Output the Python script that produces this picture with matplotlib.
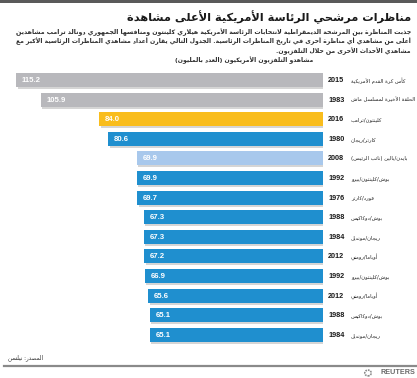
import matplotlib
matplotlib.use("Agg")
import matplotlib.pyplot as plt
from matplotlib import patheffects
from matplotlib.patches import Rectangle, Circle
from matplotlib.lines import Line2D
from matplotlib import font_manager

# ---------------- data ----------------
years = ["2015", "1983", "2016", "1980", "2008", "1992", "1976",
         "1988", "1984", "2012", "1992", "2012", "1988", "1984"]
labels_ar = ["كأس كرة القدم الأمريكية", "الحلقة الأخيرة لمسلسل ماش",
             "كلينتون/ترامب", "كارتر/ريجان", "بايدن/بالين (نائب الرئيس)",
             "بوش/كلينتون/بيرو", "فورد/كارتر", "بوش/دوكاكيس", "ريجان/مونديل",
             "أوباما/رومني", "بوش/كلينتون/بيرو", "أوباما/رومني",
             "بوش/دوكاكيس", "ريجان/مونديل"]
values = [115.2, 105.9, 84.0, 80.6, 69.9, 69.9, 69.7,
          67.3, 67.3, 67.2, 66.9, 65.6, 65.1, 65.1]
kinds = ["other", "other", "current", "debate", "vp", "debate", "debate",
         "debate", "debate", "debate", "debate", "debate", "debate", "debate"]

title = "مناظرات مرشحي الرئاسة الأمريكية الأعلى مشاهدة"
subtitle_lines = [
    "جذبت المناظرة بين المرشحة الديمقراطية لانتخابات الرئاسة الأمريكية هيلاري كلينتون ومنافسها الجمهوري دونالد ترامب مشاهدين",
    "أعلى من مشاهدي أي مناظرة أخرى في تاريخ المناظرات الرئاسية. الجدول التالي يقارن أعداد مشاهدي المناظرات الرئاسية الأكبر مع",
    "مشاهدي الأحداث الأخرى من خلال التلفزيون.",
]
axis_title = "مشاهدو التلفزيون الأمريكيون (العدد بالمليون)"
source = "المصدر: نيلسن"

# ---------------- minimal Arabic shaping + bidi ----------------
def _four(b):
    return tuple(range(b, b + 4))

FORMS = {
    '\u0621': (0xFE80,), '\u0622': (0xFE81, 0xFE82), '\u0623': (0xFE83, 0xFE84),
    '\u0624': (0xFE85, 0xFE86), '\u0625': (0xFE87, 0xFE88), '\u0626': _four(0xFE89),
    '\u0627': (0xFE8D, 0xFE8E), '\u0628': _four(0xFE8F), '\u0629': (0xFE93, 0xFE94),
    '\u062A': _four(0xFE95), '\u062B': _four(0xFE99), '\u062C': _four(0xFE9D),
    '\u062D': _four(0xFEA1), '\u062E': _four(0xFEA5), '\u062F': (0xFEA9, 0xFEAA),
    '\u0630': (0xFEAB, 0xFEAC), '\u0631': (0xFEAD, 0xFEAE), '\u0632': (0xFEAF, 0xFEB0),
    '\u0633': _four(0xFEB1), '\u0634': _four(0xFEB5), '\u0635': _four(0xFEB9),
    '\u0636': _four(0xFEBD), '\u0637': _four(0xFEC1), '\u0638': _four(0xFEC5),
    '\u0639': _four(0xFEC9), '\u063A': _four(0xFECD), '\u0641': _four(0xFED1),
    '\u0642': _four(0xFED5), '\u0643': _four(0xFED9), '\u0644': _four(0xFEDD),
    '\u0645': _four(0xFEE1), '\u0646': _four(0xFEE5), '\u0647': _four(0xFEE9),
    '\u0648': (0xFEED, 0xFEEE), '\u0649': (0xFEEF, 0xFEF0), '\u064A': _four(0xFEF1),
}
LAMALEF = {'\u0622': 0xFEF5, '\u0623': 0xFEF7, '\u0625': 0xFEF9, '\u0627': 0xFEFB}
MIRROR = str.maketrans({'(': ')', ')': '(', '[': ']', ']': '['})


def shape_word(w):
    out, i, n = [], 0, len(w)
    while i < n:
        c = w[i]
        if c not in FORMS:
            out.append(c)
            i += 1
            continue
        prev = w[i - 1] if i > 0 else None
        jp = (prev in FORMS and len(FORMS[prev]) == 4 and len(FORMS[c]) > 1)
        if c == '\u0644' and i + 1 < n and w[i + 1] in LAMALEF:
            b = LAMALEF[w[i + 1]]
            out.append(chr(b + 1 if jp else b))
            i += 2
            continue
        nxt = w[i + 1] if i + 1 < n else None
        jn = (len(FORMS[c]) == 4 and nxt in FORMS and len(FORMS[nxt]) > 1)
        f = FORMS[c]
        if jp and jn:
            code = f[3]
        elif jp:
            code = f[1]
        elif jn:
            code = f[2]
        else:
            code = f[0]
        out.append(chr(code))
        i += 1
    return ''.join(out)


def ar(s):
    toks = s.split(' ')
    res = []
    for t in toks:
        if any('\u0600' <= ch <= '\u06FF' for ch in t):
            res.append(shape_word(t)[::-1].translate(MIRROR))
        else:
            res.append(t)
    return ' '.join(res[::-1])

# ---------------- fonts ----------------
_names = {f.name for f in font_manager.fontManager.ttflist}
AR_FONT = (['DejaVu Sans Condensed'] if 'DejaVu Sans Condensed' in _names else []) + ['DejaVu Sans']
NUM_FONT = ['Liberation Sans', 'DejaVu Sans']

# ---------------- figure ----------------
W, H = 417, 378
fig = plt.figure(figsize=(W / 100, H / 100), dpi=100)
fig.patch.set_facecolor('white')


def fx(px):
    return px / W


def fy(py):
    return 1 - py / H

renderer = fig.canvas.get_renderer()


def fit_text(x, y, s, target_w, ha='right', weight='bold', color='#222222', family=None):
    t = fig.text(fx(x), fy(y), s, ha=ha, va='center', fontsize=10,
                 fontweight=weight, color=color, family=family or AR_FONT)
    w = t.get_window_extent(renderer).width
    t.set_fontsize(10 * target_w / w)
    return t

# top band and bottom rule
fig.add_artist(Rectangle((0, fy(3)), 1, 3 / H, transform=fig.transFigure,
                         color='#5a5a5a', lw=0))
fig.add_artist(Line2D([fx(4), 1], [fy(366), fy(366)], transform=fig.transFigure,
                      color='#8a8a8a', lw=1.6))

# title / subtitle
fit_text(411, 17, ar(title), 286, color='#1a1a1a')
t1 = fit_text(411, 32, ar(subtitle_lines[0]), 398, color='#2a2a2a')
t2 = fit_text(411, 41.5, ar(subtitle_lines[1]), 398, color='#2a2a2a')
sub_fs = (t1.get_fontsize() + t2.get_fontsize()) / 2
fig.text(fx(411), fy(51), ar(subtitle_lines[2]), ha='right', va='center',
         fontsize=sub_fs, fontweight='bold', color='#2a2a2a', family=AR_FONT)
fig.text(fx(313), fy(60.5), ar(axis_title), ha='right', va='center',
         fontsize=sub_fs, fontweight='bold', color='#2a2a2a', family=AR_FONT)

# bars
colors = {"other": "#b8b8bc", "current": "#f9bd1d", "debate": "#1f8fcf", "vp": "#a8c8ec"}
y_top, y_bot = 70.2, 344.6
ax = fig.add_axes([0, fy(y_bot), fx(323), (y_bot - y_top) / H])
ax.axis('off')
ax.set_xlim(121.2, 0)
ax.set_ylim(len(values) - 0.5, -0.5)

ypos = list(range(len(values)))
bars = ax.barh(ypos, values, height=0.71, color=[colors[k] for k in kinds], lw=0)
for b in bars:
    b.set_path_effects([patheffects.withSimplePatchShadow(offset=(1.2, -1.5),
                                                          shadow_rgbFace='#888888',
                                                          alpha=0.35),
                        patheffects.Normal()])

for i, v in enumerate(values):
    ax.annotate(f"{v:.1f}", xy=(v, i), xytext=(6, -0.5), textcoords='offset pixels',
                ha='left', va='center', fontsize=5.6, fontweight='bold',
                color='white', family=NUM_FONT)
    ax.annotate(years[i], xy=(0, i), xytext=(5, -0.5), textcoords='offset pixels',
                ha='left', va='center', fontsize=5.2, fontweight='bold',
                color='#1a1a1a', family=NUM_FONT, annotation_clip=False)

# fit Arabic label size on the first label
probe = fig.text(0, 0, ar(labels_ar[0]), fontsize=10, family=AR_FONT)
lab_fs = 10 * 54 / probe.get_window_extent(renderer).width
probe.remove()
for i, lab in enumerate(labels_ar):
    ax.annotate(ar(lab), xy=(0, i), xytext=(28, -0.5), textcoords='offset pixels',
                ha='left', va='center', fontsize=lab_fs, color='#222222',
                family=AR_FONT, annotation_clip=False)

# source
fit_text(43, 358, ar(source), 35, ha='right', weight='normal', color='#333333')

# Reuters mark
fig.text(fx(415), fy(373), "REUTERS", ha='right', va='center', fontsize=5.2,
         color='#6a6a6a', family=NUM_FONT, fontweight='bold')
fig.add_artist(Circle((fx(368), fy(373)), 3.2 / W, transform=fig.transFigure,
                      fill=False, ec='#8a8a8a', lw=1.2, ls=(0, (1, 0.6))))

fig.savefig('out.png', dpi=100, facecolor='white')
